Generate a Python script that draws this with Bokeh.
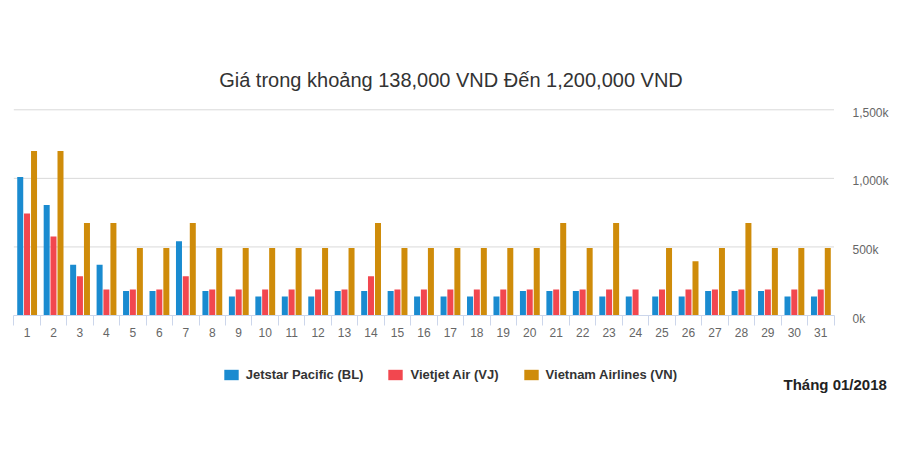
from bokeh.plotting import figure
from bokeh.models import (Range1d, FixedTicker, Legend, LegendItem, Label,
                          ColumnDataSource)
from bokeh.transform import dodge
from bokeh.core.properties import value
from bokeh.embed import file_html
from bokeh.resources import INLINE

# ---- data ----
days = list(range(1, 32))
day_labels = [str(d) for d in days]
jetstar = [1010000, 806000, 370000, 370000, 179000, 179000, 542000, 179000,
           138000, 138000, 138000, 138000, 179000, 179000, 179000, 138000,
           138000, 138000, 138000, 179000, 179000, 179000, 138000, 138000,
           138000, 138000, 179000, 179000, 179000, 138000, 138000]
vietjet = [743000, 576000, 287000, 189000, 189000, 189000, 287000, 189000,
           189000, 189000, 189000, 189000, 189000, 287000, 189000, 189000,
           189000, 189000, 189000, 189000, 189000, 189000, 189000, 189000,
           189000, 189000, 189000, 189000, 189000, 189000, 189000]
vna = [1200000, 1200000, 674000, 674000, 493000, 493000, 674000, 493000,
       493000, 493000, 493000, 493000, 493000, 674000, 493000, 493000,
       493000, 493000, 493000, 493000, 674000, 493000, 674000, 0,
       493000, 395000, 493000, 674000, 493000, 493000, 493000]
series_names = ["Jetstar Pacific (BL)", "Vietjet Air (VJ)", "Vietnam Airlines (VN)"]
y_ticks = [0, 500000, 1000000, 1500000]
y_tick_labels = ["0k", "500k", "1,000k", "1,500k"]
title_text = "Giá trong khoảng 138,000 VND Đến 1,200,000 VND"
month_text = "Tháng 01/2018"

colors = ["#1a8bd0", "#f2474f", "#cf8c0a"]

# ---- layout constants (pixels) ----
W, H = 900, 471
BOTTOM_BORDER = 40
FRAME_H = H - BOTTOM_BORDER
PLOT_L, PLOT_R = 13.3, 833.5      # pixel span of the category area
ZERO_Y, TOP_Y = 315.0, 109.3      # pixel rows of 0 and of the top tick

x_lo, x_hi = days[0] - 0.5, days[-1] + 0.5
ux = (PLOT_R - PLOT_L) / (x_hi - x_lo)
x_start = x_lo - PLOT_L / ux
x_end = x_start + W / ux
uy = (y_ticks[-1] - y_ticks[0]) / (ZERO_Y - TOP_Y)
y_end = y_ticks[-1] + TOP_Y * uy
y_start = -(FRAME_H - ZERO_Y) * uy

src = ColumnDataSource(dict(day=days, jp=jetstar, vj=vietjet, vn=vna))

p = figure(width=W, height=H, output_backend="svg", toolbar_location=None,
           x_range=Range1d(x_start, x_end), y_range=Range1d(y_start, y_end),
           y_axis_location=None, tools="")
p.min_border_left = 0
p.min_border_right = 0
p.min_border_top = 0
p.min_border_bottom = BOTTOM_BORDER
p.outline_line_color = None
p.background_fill_color = "white"
p.border_fill_color = "white"
p.xgrid.visible = False
p.ygrid.visible = False

# grid lines
grid_src = ColumnDataSource(dict(x0=[x_lo] * (len(y_ticks) - 1),
                                 x1=[x_hi] * (len(y_ticks) - 1),
                                 y=y_ticks[1:]))
p.segment(x0="x0", x1="x1", y0="y", y1="y", source=grid_src,
          line_color="#d9d9d9", line_width=1)

bw = 0.227
r1 = p.vbar(x=dodge("day", -0.257, range=p.x_range), top="jp", width=bw,
            source=src, fill_color=colors[0], line_color=None)
r2 = p.vbar(x=dodge("day", 0.0, range=p.x_range), top="vj", width=bw,
            source=src, fill_color=colors[1], line_color=None)
r3 = p.vbar(x=dodge("day", 0.265, range=p.x_range), top="vn", width=bw,
            source=src, fill_color=colors[2], line_color=None)

# x axis, drawn at y = 0
xa = p.xaxis[0]
xa.fixed_location = 0
xa.bounds = (x_lo, x_hi)
xa.ticker = FixedTicker(ticks=days, minor_ticks=[d - 0.5 for d in days] + [x_hi])
xa.major_label_overrides = {d: s for d, s in zip(days, day_labels)}
xa.axis_line_color = "#ccd6eb"
xa.major_tick_line_color = None
xa.major_tick_out = 0
xa.major_tick_in = 0
xa.minor_tick_line_color = "#ccd6eb"
xa.minor_tick_out = 10
xa.minor_tick_in = 0
xa.major_label_standoff = 2
xa.major_label_text_font = "Liberation Sans"
xa.major_label_text_font_size = "12px"
xa.major_label_text_color = "#666666"

# y tick labels on the right of the category area
ylab_src = ColumnDataSource(dict(x=[x_hi] * len(y_ticks), y=y_ticks,
                                 t=y_tick_labels))
p.text(x="x", y="y", text="t", source=ylab_src, x_offset=18.5, y_offset=3,
       text_align="left", text_baseline="middle",
       text_font=value("Liberation Sans"), text_font_size="12px",
       text_color="#666666")

# legend
legend = Legend(items=[LegendItem(label=series_names[0], renderers=[r1]),
                       LegendItem(label=series_names[1], renderers=[r2]),
                       LegendItem(label=series_names[2], renderers=[r3])],
                orientation="horizontal", location=(221.7, FRAME_H - 382),
                glyph_width=18, glyph_height=13, label_standoff=6, spacing=23,
                padding=0, margin=0, border_line_alpha=0,
                background_fill_alpha=0,
                label_text_font="Liberation Sans", label_text_font_size="13px",
                label_text_font_style="bold", label_text_color="#333333")
p.add_layout(legend, "center")

# title and month label
p.add_layout(Label(x=450.5, y=FRAME_H - 79.7, x_units="screen", y_units="screen",
                   text=title_text, text_align="center",
                   text_baseline="alphabetic", text_font="Liberation Sans",
                   text_font_size="20px", text_color="#333333"))
p.add_layout(Label(x=783, y=FRAME_H - 383.5, x_units="screen", y_units="screen",
                   text=month_text, text_align="left",
                   text_baseline="alphabetic", text_font="Liberation Sans",
                   text_font_size="15px", text_font_style="bold",
                   text_color="#222222"))

open("out.html", "w").write(file_html(p, INLINE))
